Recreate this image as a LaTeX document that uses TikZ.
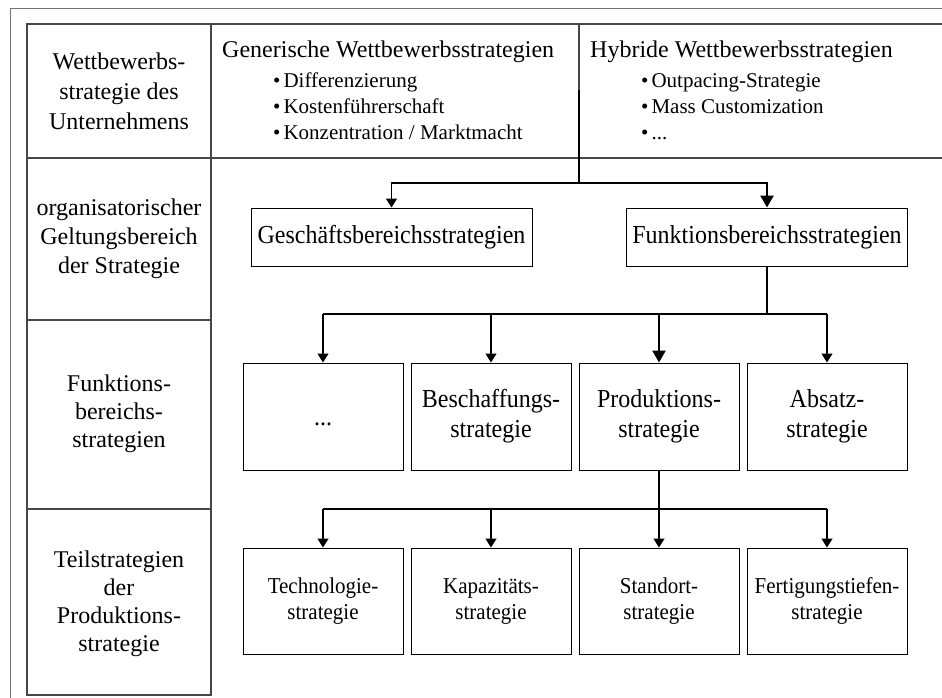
\documentclass[tikz,border=0pt]{standalone}
\usepackage{fontspec}
\setmainfont{Liberation Serif}
\usetikzlibrary{arrows.meta}
% box captions are set slightly taller than wide
\newcommand\boxtext[1]{\scalebox{1}[1.08]{\begin{tabular}{@{}c@{}}#1\end{tabular}}}
% bulleted list item
\newcommand\bulitem[1]{•\kern3pt #1}
\begin{document}
\begin{tikzpicture}[x=1pt,y=-1pt,
  frameline/.style={draw=black!55, line width=0.9pt},
  gridline/.style={draw=black!72, line width=1.1pt},
  lab/.style={inner sep=0pt, align=center},
  hdr/.style={inner sep=0pt, anchor=base west, font=\fontsize{24}{28}\selectfont},
  bul/.style={inner sep=0pt, anchor=base west, font=\fontsize{21}{25}\selectfont},
  box/.style={draw=black, line width=1pt, inner sep=0pt, align=center},
  bigbox/.style={box, minimum width=281pt, minimum height=58pt, font=\fontsize{24}{28}\selectfont},
  midbox/.style={box, minimum width=160pt, minimum height=107pt, font=\fontsize{24}{28}\selectfont},
  lowbox/.style={box, minimum width=160pt, minimum height=106pt, font=\fontsize{21}{24.5}\selectfont},
  conn/.style={draw=black, line width=1.3pt},
  connarrow/.style={conn, -{Triangle[length=9pt, width=11pt]}},
  mainconn/.style={draw=black, line width=2.6pt},
  mainarrow/.style={mainconn, -{Triangle[length=12pt, width=13pt]}}
]
\useasboundingbox (0,0) rectangle (942,697);

% outer frame (runs off to the right and bottom)
\draw[frameline] (10,720) -- (10,8) -- (960,8);

% table grid
\draw[gridline] (27,24) rectangle (211,695);
\draw[gridline] (211,24) -- (960,24);
\draw[gridline] (27,158) -- (960,158);
\draw[gridline] (27,320) -- (211,320);
\draw[gridline] (27,509) -- (211,509);
\draw[gridline] (579,24) -- (579,158);

% row labels
\node[lab, font=\fontsize{24}{30}\selectfont] (r1) at (119,91) {Wettbewerbs-\\strategie des\\Unternehmens};
\node[lab, font=\fontsize{24}{29}\selectfont] (r2) at (119,239) {organisatorischer\\Geltungsbereich\\der Strategie};
\node[lab, font=\fontsize{24}{28}\selectfont] (r3) at (119,414) {Funktions-\\bereichs-\\strategien};
\node[lab, font=\fontsize{24}{28}\selectfont] (r4) at (119,604) {Teilstrategien\\der\\Produktions-\\strategie};

% competitive strategies
\node[hdr] (gen) at (222,57) {Generische Wettbewerbsstrategien};
\node[bul] (gen1) at (273,87) {\bulitem{Differenzierung}};
\node[bul] (gen2) at (273,113) {\bulitem{Kostenführerschaft}};
\node[bul] (gen3) at (273,139) {\bulitem{Konzentration / Marktmacht}};
\node[hdr] (hyb) at (590,57) {Hybride Wettbewerbsstrategien};
\node[bul] (hyb1) at (641,87) {\bulitem{Outpacing-Strategie}};
\node[bul] (hyb2) at (641,113) {\bulitem{Mass Customization}};
\node[bul] (hyb3) at (641,139) {\bulitem{...}};

% organisational scope
\node[bigbox] (gb) at (391.5,237) {\boxtext{Geschäftsbereichsstrategien}};
\node[bigbox] (fb) at (767,237) {\boxtext{Funktionsbereichsstrategien}};

% functional strategies
\node[midbox] (m1) at (323,416.5) {\boxtext{\raisebox{-3pt}{...}}};
\node[midbox] (m2) at (491,416.5) {\boxtext{Beschaffungs-\\strategie}};
\node[midbox] (m3) at (659,416.5) {\boxtext{Produktions-\\strategie}};
\node[midbox] (m4) at (827,416.5) {\boxtext{Absatz-\\strategie}};

% sub-strategies of production
\node[lowbox] (b1) at (323,601) {\boxtext{Technologie-\\strategie}};
\node[lowbox] (b2) at (491,601) {\boxtext{Kapazitäts-\\strategie}};
\node[lowbox] (b3) at (659,601) {\boxtext{Standort-\\strategie}};
\node[lowbox] (b4) at (827,601) {\boxtext{Fertigungstiefen-\\strategie}};

% connectors: competitive strategy -> scope
\coordinate (src) at (579,90);
\coordinate (split1) at (579,183);
\draw[connarrow] (split1) -| (gb.north);
\draw[mainarrow] (src) -- (split1) -| (fb.north);

% connectors: functional scope -> functional strategies
\coordinate (split2) at (767,314);
\draw[conn] (m1.north |- split2) -- (m4.north |- split2);
\draw[connarrow] (m1.north |- split2) -- (m1.north);
\draw[connarrow] (m2.north |- split2) -- (m2.north);
\draw[connarrow] (m4.north |- split2) -- (m4.north);
\draw[mainarrow] (fb.south) |- (m3.north |- split2) -- (m3.north);

% connectors: production strategy -> sub-strategies
\coordinate (split3) at (659,509);
\draw[conn] (m3.south) -- (split3);
\draw[conn] (b1.north |- split3) -- (b4.north |- split3);
\draw[connarrow] (b1.north |- split3) -- (b1.north);
\draw[connarrow] (b2.north |- split3) -- (b2.north);
\draw[connarrow] (b3.north |- split3) -- (b3.north);
\draw[connarrow] (b4.north |- split3) -- (b4.north);
\end{tikzpicture}
\end{document}
